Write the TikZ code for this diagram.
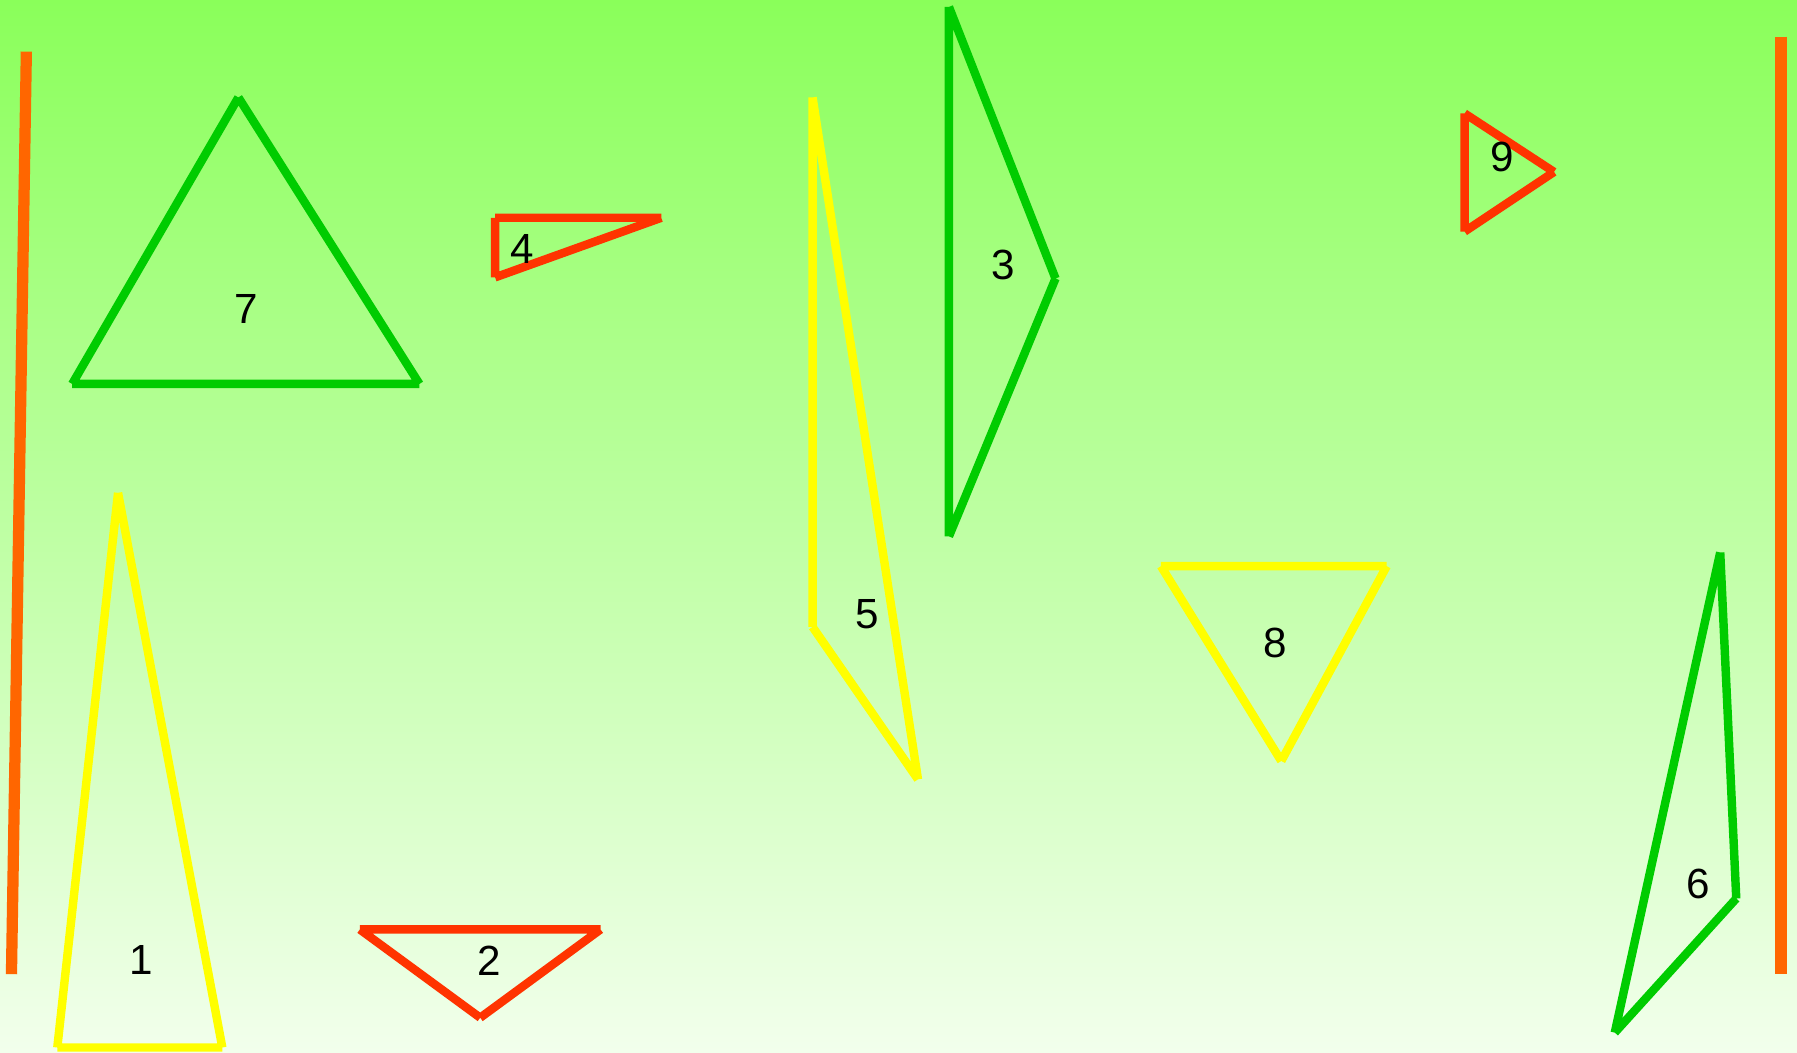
\documentclass[tikz,border=0pt]{standalone}
\usepackage{fontspec}
\setmainfont{Liberation Sans}
\definecolor{bgtop}{HTML}{8AFF5A}
\definecolor{bgbot}{HTML}{F2FFEC}
\definecolor{trigreen}{HTML}{00CC00}
\definecolor{triyellow}{HTML}{FFFF00}
\definecolor{trired}{HTML}{FF3300}
\definecolor{barorange}{HTML}{FF6600}
\begin{document}
\begin{tikzpicture}[
        x=0.01146cm, y=-0.01146cm,
        % Etichette numeriche dei triangoli
        every node/.style={font=\fontsize{12}{14}\selectfont, text=black, inner sep=0pt},
        % Lati dei triangoli: segmenti separati, estremi piatti
        tri/.style={line width=2.4pt, line cap=butt},
        % Barre verticali laterali
        bar/.style={line width=3.2pt, draw=barorange}
    ]

    % --- Sfondo sfumato ---
    \shade[top color=bgtop, bottom color=bgbot] (0,0) rectangle (1568,918);
    \useasboundingbox (0,0) rectangle (1568,918);

    % --- Barre laterali ---
    \draw[bar] (23,45) -- (10,850);
    \draw[bar] (1554,32) -- (1554,850);

    % --- Triangolo 7 ---
    \draw[tri, draw=trigreen] (208,85) -- (366,335) (366,335) -- (63,335) (63,335) -- (208,85);
    \node (n7) at (215,270) {7};

    % --- Triangolo 4 ---
    \draw[tri, draw=trired] (432,190) -- (577,190) (577,190) -- (432,242) (432,242) -- (432,190);
    \node (n4) at (456,217) {4};

    % --- Triangolo 1 ---
    \draw[tri, draw=triyellow] (103,430) -- (194,914) (194,914) -- (50,914) (50,914) -- (103,430);
    \node (n1) at (123,838) {1};

    % --- Triangolo 2 ---
    \draw[tri, draw=trired] (314,811) -- (524,811) (524,811) -- (419,888) (419,888) -- (314,811);
    \node (n2) at (427,838) {2};

    % --- Triangolo 5 ---
    \draw[tri, draw=triyellow] (709,85) -- (801,680) (801,680) -- (709,547) (709,547) -- (709,85);
    \node (n5) at (757,536) {5};

    % --- Triangolo 3 ---
    \draw[tri, draw=trigreen] (828,6) -- (921,243) (921,243) -- (828,468) (828,468) -- (828,6);
    \node (n3) at (875,231) {3};

    % --- Triangolo 9 ---
    \draw[tri, draw=trired] (1278,99) -- (1356,150) (1356,150) -- (1278,202) (1278,202) -- (1278,99);
    \node (n9) at (1311,137) {9};

    % --- Triangolo 8 ---
    \draw[tri, draw=triyellow] (1013,494) -- (1210,494) (1210,494) -- (1118,664) (1118,664) -- (1013,494);
    \node (n8) at (1113,561) {8};

    % --- Triangolo 6 ---
    \draw[tri, draw=trigreen] (1501,482) -- (1515,784) (1515,784) -- (1409,901) (1409,901) -- (1501,482);
    \node (n6) at (1482,771) {6};

\end{tikzpicture}
\end{document}
